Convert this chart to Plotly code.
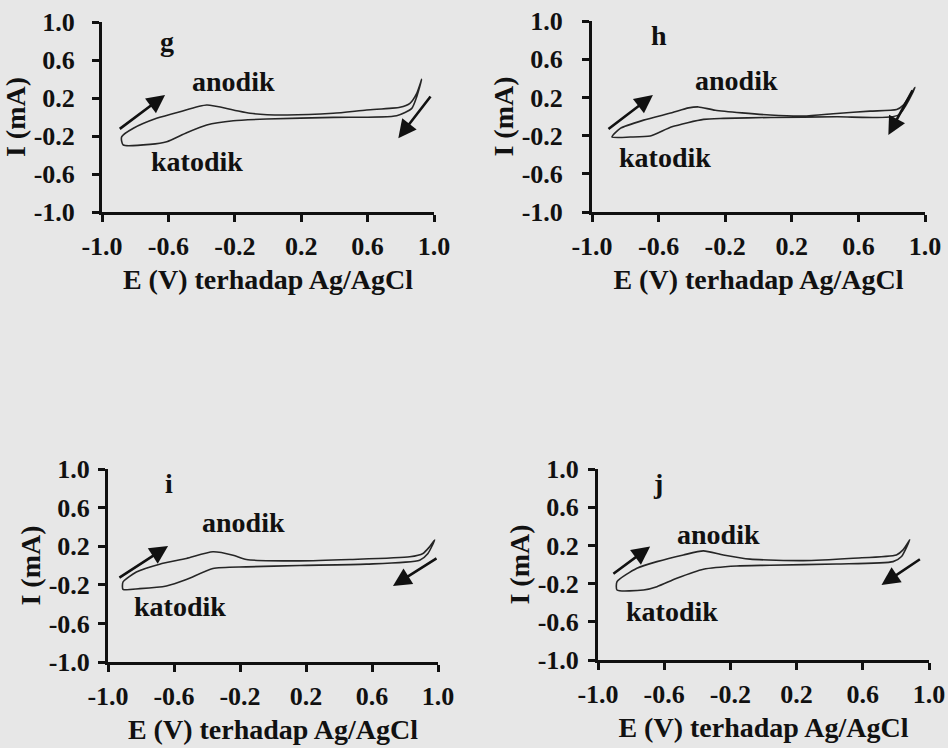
import plotly.graph_objects as go

# ---------------- data ----------------
tick_vals = [-1.0, -0.6, -0.2, 0.2, 0.6, 1.0]
tick_text = ["-1.0", "-0.6", "-0.2", "0.2", "0.6", "1.0"]
x_title = "E (V) terhadap Ag/AgCl"
y_title = "I (mA)"
panel_names = ["g", "h", "i", "j"]

# closed CV loops: anodic (upper) branch then cathodic (lower) branch
E_g = [-0.881, -0.811, -0.671, -0.53, -0.369, -0.209, -0.108, 0.092, 0.393, 0.594, 0.795, 0.855, 0.896, 0.926,
       0.896, 0.866, 0.775, 0.393, -0.008, -0.209, -0.369, -0.49, -0.61, -0.711, -0.872, -0.881, -0.881]
I_g = [-0.207, -0.119, -0.014, 0.056, 0.126, 0.074, 0.039, 0.021, 0.039, 0.074, 0.102, 0.144, 0.249, 0.397,
       0.214, 0.091, 0.014, -0.004, -0.021, -0.039, -0.084, -0.165, -0.26, -0.288, -0.295, -0.26, -0.207]

E_h = [-0.88, -0.83, -0.69, -0.52, -0.42, -0.36, -0.26, 0.07, 0.27, 0.47, 0.67, 0.83, 0.87, 0.94,
       0.84, 0.47, 0.07, -0.21, -0.33, -0.52, -0.65, -0.77, -0.88]
I_h = [-0.215, -0.124, -0.038, 0.04, 0.09, 0.10, 0.066, 0.015, 0.004, 0.032, 0.056, 0.073, 0.119, 0.304,
       0.015, -0.003, -0.01, -0.02, -0.03, -0.108, -0.205, -0.215, -0.215]

E_i = [-0.909, -0.828, -0.687, -0.525, -0.364, -0.242, -0.161, 0.162, 0.465, 0.829, 0.909, 0.949, 0.98,
       0.939, 0.889, 0.566, 0.162, -0.161, -0.364, -0.525, -0.646, -0.808, -0.909, -0.909]
I_i = [-0.171, -0.067, 0.014, 0.073, 0.142, 0.107, 0.062, 0.048, 0.062, 0.090, 0.125, 0.194, 0.264,
       0.125, 0.055, 0.014, 0.0, -0.014, -0.031, -0.146, -0.212, -0.24, -0.247, -0.171]

E_j = [-0.885, -0.765, -0.644, -0.484, -0.363, -0.243, -0.081, 0.24, 0.542, 0.803, 0.843, 0.884,
       0.834, 0.783, 0.441, 0.039, -0.162, -0.363, -0.524, -0.644, -0.725, -0.885, -0.885]
I_j = [-0.179, -0.039, 0.03, 0.1, 0.143, 0.1, 0.056, 0.041, 0.066, 0.1, 0.153, 0.258,
       0.083, 0.03, 0.006, -0.008, -0.015, -0.049, -0.144, -0.232, -0.267, -0.267, -0.179]

# scan-direction arrows: [E_tail, I_tail, E_head, I_head]
arrow_anodik = {"g": [-0.902, -0.137, -0.62, 0.232], "h": [-0.91, -0.142, -0.634, 0.224],
                "i": [-0.94, -0.135, -0.636, 0.201], "j": [-0.916, -0.109, -0.685, 0.188]}
arrow_katodik = {"g": [0.986, 0.232, 0.785, -0.224], "h": [0.93, 0.29, 0.78, -0.194],
                 "i": [1.0, 0.083, 0.727, -0.212], "j": [0.954, 0.066, 0.713, -0.214]}

# text label anchor positions (E, I)
pos_name = {"g": [-0.61, 0.79], "h": [-0.6, 0.85], "i": [-0.63, 0.85], "j": [-0.64, 0.853]}
pos_anodik = {"g": [-0.21, 0.37], "h": [-0.13, 0.38], "i": [-0.18, 0.45], "j": [-0.27, 0.318]}
pos_katodik = {"g": [-0.43, -0.47], "h": [-0.56, -0.43], "i": [-0.565, -0.42], "j": [-0.554, -0.494]}

loops = {"g": (E_g, I_g), "h": (E_h, I_h), "i": (E_i, I_i), "j": (E_j, I_j)}

# ---------------- layout / style ----------------
W, H = 948, 748
dom = {  # pixel boxes (left, right, top, bottom)
    "g": (102, 434, 22, 212),
    "h": (592, 925, 21, 212),
    "i": (108, 438, 469, 662),
    "j": (598, 929, 469, 660),
}
lab_standoff = {"g": 12, "h": 14, "i": 3, "j": 4}
FONT = "Liberation Serif"
BG = "#e7e7e7"
INK = "#111111"

fig = go.Figure()
layout = dict(
    width=W, height=H, template="none",
    paper_bgcolor=BG, plot_bgcolor=BG,
    margin=dict(l=0, r=0, t=0, b=0),
    showlegend=False,
    font=dict(family=FONT, color=INK),
)
annotations = []

for k, p in enumerate(panel_names):
    xn = "x" if k == 0 else f"x{k+1}"
    yn = "y" if k == 0 else f"y{k+1}"
    xk = "xaxis" if k == 0 else f"xaxis{k+1}"
    yk = "yaxis" if k == 0 else f"yaxis{k+1}"
    l, r, t, b = dom[p]
    E, I = loops[p]
    fig.add_trace(go.Scatter(
        x=E, y=I, xaxis=xn, yaxis=yn, mode="lines",
        line=dict(color="#262626", width=1.6, shape="spline", smoothing=0.6),
        hoverinfo="skip", showlegend=False))

    axis_common = dict(
        range=[-1.0, 1.0], tickmode="array", tickvals=tick_vals, ticktext=tick_text,
        showline=True, linewidth=3, linecolor=INK, mirror=False,
        ticks="outside", ticklen=7, tickwidth=3, tickcolor=INK,
        showgrid=False, zeroline=False, automargin=False, fixedrange=True,
        tickfont=dict(family=FONT, size=26, color=INK, weight="bold"),
    )
    layout[xk] = dict(axis_common, domain=[l / W, r / W], anchor=yn,
                      ticklabelstandoff=2,
                      title=dict(text=x_title, standoff=10,
                                 font=dict(family=FONT, size=28, color=INK, weight="bold")))
    layout[yk] = dict(axis_common, domain=[1 - b / H, 1 - t / H], anchor=xn,
                      ticklabelstandoff=lab_standoff[p],
                      title=dict(text=y_title, standoff=0,
                                 font=dict(family=FONT, size=28, color=INK, weight="bold")))

    # arrows
    for arr in (arrow_anodik[p], arrow_katodik[p]):
        annotations.append(dict(
            x=arr[2], y=arr[3], ax=arr[0], ay=arr[1], xref=xn, yref=yn, axref=xn, ayref=yn,
            text="", showarrow=True, arrowhead=2, arrowsize=1.4, arrowwidth=2.6, arrowcolor=INK,
            standoff=0, startstandoff=0))
    # texts
    txt_font = dict(family=FONT, size=28, color=INK, weight="bold")
    annotations.append(dict(x=pos_name[p][0], y=pos_name[p][1], xref=xn, yref=yn, text=p,
                            showarrow=False, font=txt_font))
    annotations.append(dict(x=pos_anodik[p][0], y=pos_anodik[p][1], xref=xn, yref=yn, text="anodik",
                            showarrow=False, font=txt_font))
    annotations.append(dict(x=pos_katodik[p][0], y=pos_katodik[p][1], xref=xn, yref=yn, text="katodik",
                            showarrow=False, font=txt_font))

layout["annotations"] = annotations
fig.update_layout(**layout)
fig.write_html("out.html", config={"displayModeBar": False, "staticPlot": False},
               post_script="document.body.style.margin='0px';document.body.style.overflow='hidden';")
